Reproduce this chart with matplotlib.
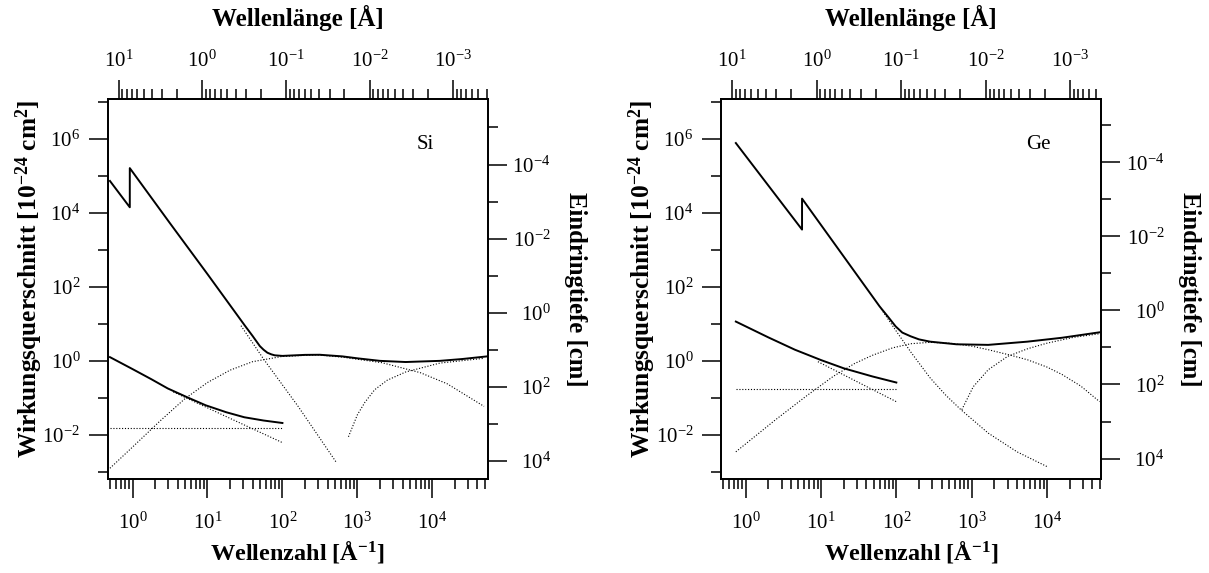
import numpy as np
import matplotlib.pyplot as plt
from matplotlib.ticker import FixedLocator, LogLocator, LogFormatterMathtext, NullFormatter

plt.rcParams['font.family'] = 'Liberation Serif'
plt.rcParams['mathtext.fontset'] = 'custom'
plt.rcParams['mathtext.rm'] = 'Liberation Serif'
plt.rcParams['mathtext.bf'] = 'Liberation Serif:bold'
plt.rcParams['mathtext.it'] = 'Liberation Serif:italic'

# %% Data: Si (wave number k [1/A], cross section [1e-24 cm^2])
si_tot_k = [0.50, 0.92, 0.92, 3.16, 10, 31.6, 40, 50, 56, 63, 71, 79, 100, 200, 316, 630, 1000, 2000, 4400, 12600, 25000, 53700]
si_tot_s = [7.2e4, 1.4e4, 1.6e5, 5.2e3, 220, 8.9, 4.7, 2.5, 2.0, 1.66, 1.5, 1.41, 1.36, 1.45, 1.46, 1.32, 1.17, 1.0, 0.93, 1.0, 1.12, 1.32]
si_photo_k = [28, 56, 162, 525]
si_photo_s = [8.9, 1.12, 0.059, 1.8e-3]
si_compt_k = [0.5, 1.0, 2.34, 5.0, 10, 20, 40, 100, 290, 630, 2140, 6900, 15800, 49000]
si_compt_s = [1.26e-3, 4.7e-3, 0.024, 0.095, 0.26, 0.56, 0.95, 1.32, 1.45, 1.26, 0.89, 0.48, 0.24, 0.059]
si_pair_k = [760, 1000, 1260, 1700, 2500, 4400, 12600, 49000]
si_pair_s = [8.9e-3, 0.035, 0.076, 0.166, 0.30, 0.50, 0.87, 1.17]
si_low_k = [0.5, 1.0, 1.78, 2.95, 5.6, 9.5, 17.8, 31, 56, 100]
si_low_s = [1.26, 0.60, 0.32, 0.18, 0.10, 0.063, 0.041, 0.030, 0.0245, 0.021]
si_coh_k = [3.5, 20, 100]
si_coh_s = [0.145, 0.028, 6.2e-3]
si_flat_k = [0.5, 100]
si_flat_s = [0.0151, 0.0151]

# %% Data: Ge
ge_tot_k = [0.74, 5.6, 5.6, 60, 79, 98, 120, 155, 200, 280, 630, 1660, 5500, 15800, 50000]
ge_tot_s = [7.6e5, 3.5e3, 2.4e4, 29.5, 14.8, 8.5, 5.8, 4.6, 3.8, 3.3, 2.8, 2.7, 3.3, 4.2, 5.9]
ge_photo_k = [63, 100, 158, 280, 450, 720, 1660, 4000, 10000]
ge_photo_s = [25, 6.3, 1.66, 0.35, 0.12, 0.048, 0.0112, 3.5e-3, 1.4e-3]
ge_compt_k = [0.74, 2.45, 6.3, 14.5, 28, 48, 89, 155, 280, 510, 1000, 1660, 3160, 5500, 10000, 15800, 28000, 50000]
ge_compt_s = [3.5e-3, 0.025, 0.11, 0.38, 0.85, 1.41, 2.24, 2.9, 3.16, 3.0, 2.5, 2.0, 1.45, 1.07, 0.68, 0.43, 0.21, 0.079]
ge_pair_k = [740, 1050, 1660, 3000, 5600, 10000, 22400, 50000]
ge_pair_s = [0.048, 0.20, 0.575, 1.32, 2.14, 3.0, 4.3, 5.4]
ge_low_k = [0.74, 2.0, 4.5, 10, 20, 48, 100]
ge_low_s = [11.5, 4.3, 2.0, 1.05, 0.63, 0.38, 0.26]
ge_coh_k = [9.1, 31.6, 100]
ge_coh_s = [0.95, 0.26, 0.079]
ge_flat_k = [0.74, 100]
ge_flat_s = [0.174, 0.174]

W, H = 1209, 573
solid = dict(color='black', lw=1.4)
dotted = dict(color='black', lw=0.8, ls=(0, (1, 1.6)))


def panel(ax, name, klim, lamlim, depth_c, curves):
    tot, photo, compt, pair, low, coh, flat = curves
    ax.plot(*photo, **dotted)
    ax.plot(*compt, **dotted)
    ax.plot(*pair, **dotted)
    ax.plot(*coh, **dotted)
    ax.plot(*flat, **dotted)
    ax.plot(*tot, **solid)
    ax.plot(*low, **solid)

    ylim = (10**-3.19, 10**7.07)
    ax.set_xscale('log')
    ax.set_yscale('log')
    ax.set_xlim(klim)
    ax.set_ylim(ylim)
    ax.yaxis.set_major_locator(FixedLocator([1e-2, 1, 1e2, 1e4, 1e6]))
    ax.yaxis.set_minor_locator(FixedLocator([1e-3, 1e-1, 1e1, 1e3, 1e5, 1e7]))
    ax.yaxis.set_major_formatter(LogFormatterMathtext())
    ax.yaxis.set_minor_formatter(NullFormatter())
    ax.xaxis.set_major_locator(LogLocator(base=10, numticks=20))
    ax.xaxis.set_minor_locator(LogLocator(base=10, subs=np.arange(2, 10), numticks=20))
    ax.xaxis.set_minor_formatter(NullFormatter())
    ax.tick_params(which='major', direction='out', length=13.5, width=1.1, labelsize=15)
    ax.tick_params(which='minor', direction='out', length=7, width=1.1)
    ax.tick_params(axis='x', pad=11)
    ax.tick_params(axis='y', pad=6.5)

    # top axis: wavelength
    axt = ax.twiny()
    axt.set_xscale('log')
    axt.set_xlim(lamlim)
    axt.xaxis.set_major_locator(LogLocator(base=10, numticks=20))
    axt.xaxis.set_minor_locator(LogLocator(base=10, subs=np.arange(2, 10), numticks=20))
    axt.xaxis.set_minor_formatter(NullFormatter())
    axt.tick_params(which='major', direction='out', length=13.5, width=1.1, labelsize=15, pad=6)
    axt.tick_params(which='minor', direction='out', length=7, width=1.1)

    # right axis: penetration depth
    axr = ax.twinx()
    axr.set_yscale('log')
    axr.set_ylim(depth_c / ylim[0], depth_c / ylim[1])
    axr.yaxis.set_major_locator(FixedLocator([1e-4, 1e-2, 1, 1e2, 1e4]))
    axr.yaxis.set_minor_locator(FixedLocator([1e-5, 1e-3, 1e-1, 1e1, 1e3]))
    axr.yaxis.set_major_formatter(LogFormatterMathtext())
    axr.yaxis.set_minor_formatter(NullFormatter())
    axr.tick_params(which='major', direction='out', length=13.5, width=1.1, labelsize=15, pad=32)
    axr.tick_params(which='minor', direction='out', length=7, width=1.1)
    plt.setp(axr.get_yticklabels(), ha='right')

    for a in (ax, axt, axr):
        for sp in a.spines.values():
            sp.set_linewidth(1.1)

    bold = dict(fontweight='bold', transform=ax.transAxes, ha='center', va='center')
    ax.text(0.5, -0.191, r'Wellenzahl [Å$^{\mathbf{-1}}$]', fontsize=17.5, **bold)
    ax.text(0.5, 1.212, 'Wellenlänge [Å]', fontsize=18, **bold)
    ax.text(-0.207, 0.528, r'Wirkungsquerschnitt [10$^{\mathbf{-24}}$ cm$^{\mathbf{2}}$]',
            fontsize=18.3, rotation=90, **bold)
    ax.text(1.233, 0.5, 'Eindringtiefe [cm]', fontsize=17.8, rotation=-90, **bold)
    ax.text(0.835, 0.879, name, fontsize=15, transform=ax.transAxes, ha='center', va='center')


fig = plt.figure(figsize=(W / 100, H / 100), dpi=100)
ax_si = fig.add_axes([108 / W, 1 - 479 / H, 379.5 / W, 380 / H])
ax_ge = fig.add_axes([721.2 / W, 1 - 479 / H, 380 / W, 380 / H])

panel(ax_si, 'Si', (0.471, 54450), (13.4, 3.9e-4), 20,
      [(si_tot_k, si_tot_s), (si_photo_k, si_photo_s), (si_compt_k, si_compt_s),
       (si_pair_k, si_pair_s), (si_low_k, si_low_s), (si_coh_k, si_coh_s), (si_flat_k, si_flat_s)])
panel(ax_ge, 'Ge', (0.473, 52500), (13.45, 4.3e-4), 23,
      [(ge_tot_k, ge_tot_s), (ge_photo_k, ge_photo_s), (ge_compt_k, ge_compt_s),
       (ge_pair_k, ge_pair_s), (ge_low_k, ge_low_s), (ge_coh_k, ge_coh_s), (ge_flat_k, ge_flat_s)])

fig.savefig('out.png', dpi=100)
